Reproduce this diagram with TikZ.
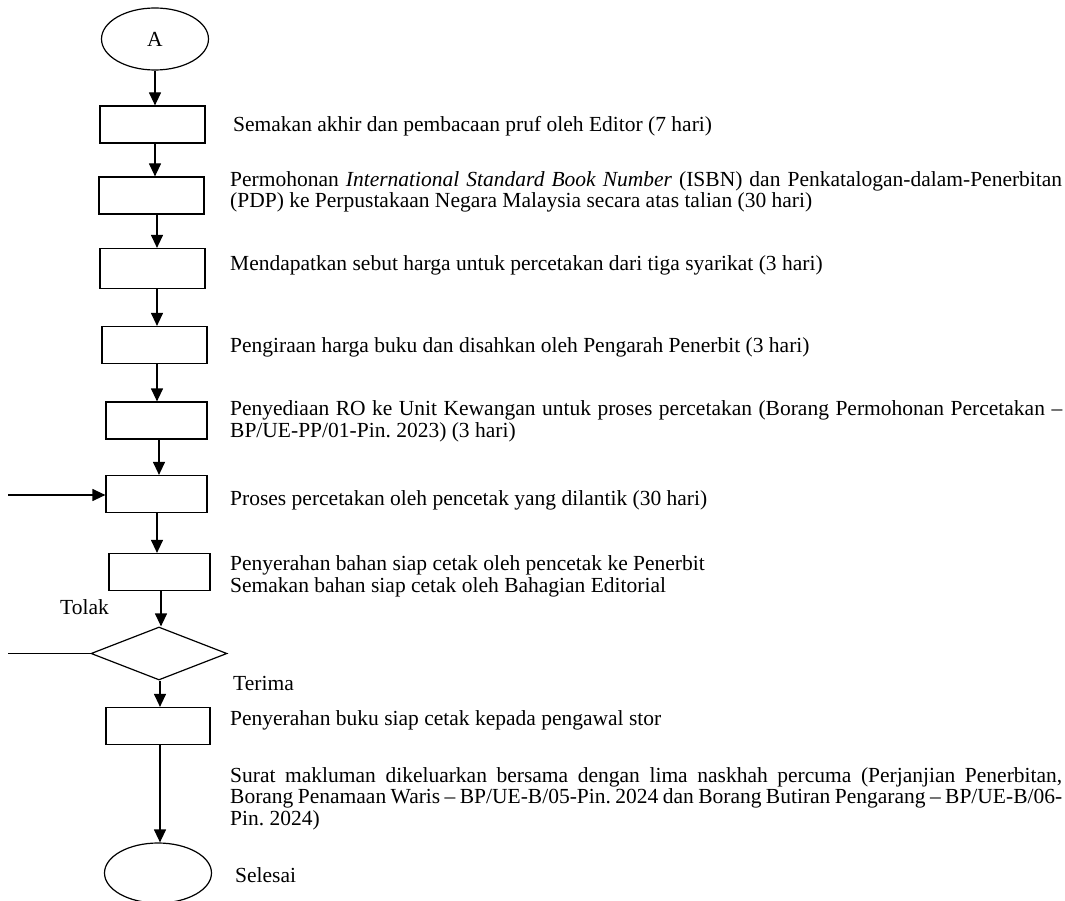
\documentclass[tikz,border=0pt]{standalone}
\usepackage{fontspec}
\setmainfont{Liberation Serif}
\usetikzlibrary{arrows.meta,shapes.geometric}
\frenchspacing

\begin{document}
\begin{tikzpicture}[x=1pt,y=-1pt,
  every node/.style={font=\fontsize{21.5}{21.5}\selectfont},
  stepbox/.style={draw, line width=1.2pt, inner sep=0pt, minimum width=105pt, minimum height=37pt},
  terminal/.style={draw, ellipse, line width=1.2pt, inner sep=0pt, minimum width=107pt, minimum height=62pt},
  decision/.style={draw, diamond, line width=1.2pt, inner sep=0pt, aspect=2.57, minimum width=136pt, minimum height=53pt},
  label/.style={anchor=base west, inner sep=0pt, align=left},
  arr/.style={line width=1.2pt, -{Triangle[length=13pt,width=12pt]}},
  ln/.style={line width=1.2pt}]
\useasboundingbox (0,0) rectangle (1065,901);

% flow shapes
\node[terminal] (A) at (155,39) {A};
\node[stepbox] (b1) at (152.5,124.5) {};
\node[stepbox] (b2) at (151.5,195.5) {};
\node[stepbox, minimum height=40pt] (b3) at (152.5,268.5) {};
\node[stepbox] (b4) at (154.5,345) {};
\node[stepbox, minimum width=101pt] (b5) at (156.5,420.5) {};
\node[stepbox, minimum width=101pt] (b6) at (156.5,494) {};
\node[stepbox, minimum width=101pt] (b7) at (159.5,572) {};
\node[decision] (d) at (159,653.5) {};
\node[stepbox, minimum width=104pt] (b8) at (158,726) {};
\node[terminal, minimum height=60pt] (E) at (158,873) {};

\coordinate (inR) at (8,495);
\coordinate (outL) at (8,653.5);

% connectors
\draw[arr] (A.south) -- (A.south |- b1.north);
\draw[arr] ([xshift=2.5pt]b1.south) -- ([xshift=2.5pt]b1.south |- b2.north);
\draw[arr] ([xshift=5.5pt]b2.south) -- ([xshift=5.5pt]b2.south |- b3.north);
\draw[arr] ([xshift=4.5pt]b3.south) -- ([xshift=4.5pt]b3.south |- b4.north);
\draw[arr] ([xshift=2.5pt]b4.south) -- ([xshift=2.5pt]b4.south |- b5.north);
\draw[arr] ([xshift=2.5pt]b5.south) -- ([xshift=2.5pt]b5.south |- b6.north);
\draw[arr] ([xshift=0.5pt]b6.south) -- ([xshift=0.5pt]b6.south |- b7.north);
\draw[arr] ([xshift=1.5pt]b7.south) -- ([xshift=1.5pt]b7.south |- d.north);
\draw[arr] ([xshift=1pt]d.south) -- ([xshift=1pt]d.south |- b8.north);
\draw[arr] ([xshift=2pt]b8.south) -- ([xshift=2pt]b8.south |- E.north);
\draw[arr] (inR) -- (inR -| b6.west);
\draw[ln] (d.west) -- (outL);

% descriptions (multi-line nodes are placed by the baseline of their last line)
\node[label] (t1) at (233,132) {Semakan akhir dan pembacaan pruf oleh Editor (7 hari)};
\node[label] (t2) at (230,208) {\makebox[832pt][s]{Permohonan \textit{International Standard Book Number} (ISBN) dan Penkatalogan-dalam-Penerbitan}\\(PDP) ke Perpustakaan Negara Malaysia secara atas talian (30 hari)};
\node[label] (t3) at (230,271) {Mendapatkan sebut harga untuk percetakan dari tiga syarikat (3 hari)};
\node[label] (t4) at (230,352) {Pengiraan harga buku dan disahkan oleh Pengarah Penerbit (3 hari)};
\node[label] (t5) at (230,437) {\makebox[832pt][s]{Penyediaan RO ke Unit Kewangan untuk proses percetakan (Borang Permohonan Percetakan –}\\BP/UE-PP/01-Pin. 2023) (3 hari)};
\node[label] (t6) at (230,505) {Proses percetakan oleh pencetak yang dilantik (30 hari)};
\node[label] (t7) at (230,592) {Penyerahan bahan siap cetak oleh pencetak ke Penerbit\\Semakan bahan siap cetak oleh Bahagian Editorial};
\node[label] (tolak) at (60,614) {Tolak};
\node[label] (terima) at (233,690) {Terima};
\node[label] (t8) at (230,725) {Penyerahan buku siap cetak kepada pengawal stor};
\node[label] (t9) at (230,825) {\makebox[832pt][s]{Surat makluman dikeluarkan bersama dengan lima naskhah percuma (Perjanjian Penerbitan,}\\\makebox[832pt][s]{Borang Penamaan Waris – BP/UE-B/05-Pin. 2024 dan Borang Butiran Pengarang – BP/UE-B/06-}\\Pin. 2024)};
\node[label] (t10) at (235,882) {Selesai};
\end{tikzpicture}
\end{document}
